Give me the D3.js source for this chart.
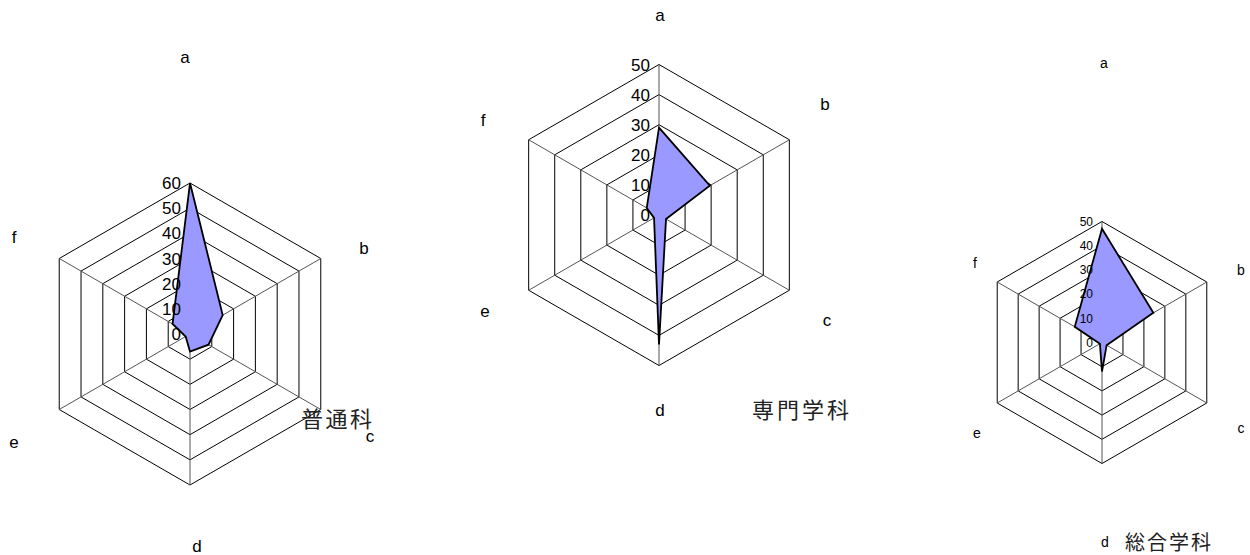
<!DOCTYPE html>
<html>
<head>
<meta charset="utf-8">
<script src="https://cdn.jsdelivr.net/npm/d3@7"></script>
<style>
  body { margin: 0; background: #fff; }
  svg { display: block; }
</style>
</head>
<body>
<svg width="1250" height="555"></svg>
<script>
// categories and values
var categories = ["a", "b", "c", "d", "e", "f"];
var titles = ["普通科", "専門学科", "総合学科"];
var futsuValues = [60, 15, 8.5, 7, 2, 8];
var senmonValues = [29, 19.5, 2.7, 43, 1.9, 4.7];
var sogoValues = [47, 24.5, 2.2, 12, 1, 13];
var futsuTicks = [0, 10, 20, 30, 40, 50, 60];
var senmonTicks = [0, 10, 20, 30, 40, 50];
var sogoTicks = [0, 10, 20, 30, 40, 50];

var svg = d3.select("svg");

// layout of each radar (centre, radius, where the labels sit)
var charts = [
  {title: titles[0], values: futsuValues, ticks: futsuTicks,
   cx: 190, cy: 334, r: 151, labelSize: 17, tickSize: 17, titleSize: 22, spacing: 2.5,
   labelOff: [[-5, -277], [174, -86], [180, 102], [7, 212], [-176, 108], [-176, -97]],
   titleOff: [111, 93]},
  {title: titles[1], values: senmonValues, ticks: senmonTicks,
   cx: 659, cy: 215, r: 150.5, labelSize: 17, tickSize: 17, titleSize: 22, spacing: 3,
   labelOff: [[1, -200], [166, -111], [168, 105], [1, 195], [-174, 96], [-176, -95]],
   titleOff: [93, 203]},
  {title: titles[2], values: sogoValues, ticks: sogoTicks,
   cx: 1102, cy: 342.5, r: 121, labelSize: 14, tickSize: 12, titleSize: 20, spacing: 2,
   labelOff: [[2, -280], [139, -73], [139, 85], [3, 199], [-125, 90], [-127, -80]],
   titleOff: [23, 207.5]}
];

charts.forEach(function(c) {
  var g = svg.append("g")
      .attr("transform", "translate(" + c.cx + "," + c.cy + ")");

  var rScale = d3.scaleLinear()
      .domain([0, d3.max(c.ticks)])
      .range([0, c.r]);

  var angle = d3.scalePoint()
      .domain(categories)
      .range([0, 2 * Math.PI * (categories.length - 1) / categories.length]);

  var line = d3.lineRadial()
      .angle(function(d) { return angle(d.cat); })
      .radius(function(d) { return rScale(d.v); })
      .curve(d3.curveLinearClosed);

  // rings
  g.selectAll(".ring")
    .data(c.ticks.filter(function(t) { return t > 0; }))
    .enter().append("path")
      .attr("class", "ring")
      .attr("d", function(t) {
        return line(categories.map(function(cat) { return {cat: cat, v: t}; }));
      })
      .style("fill", "none")
      .style("stroke", "#000")
      .style("stroke-width", 1);

  // spokes
  g.selectAll(".spoke")
    .data(categories)
    .enter().append("line")
      .attr("class", "spoke")
      .attr("x1", 0).attr("y1", 0)
      .attr("x2", function(d) { return rScale(d3.max(c.ticks)) * Math.sin(angle(d)); })
      .attr("y2", function(d) { return -rScale(d3.max(c.ticks)) * Math.cos(angle(d)); })
      .style("stroke", "#555")
      .style("stroke-width", 1);

  // data polygon
  g.append("path")
    .datum(categories.map(function(cat, i) { return {cat: cat, v: c.values[i]}; }))
    .attr("d", line)
    .style("fill", "#9999ff")
    .style("stroke", "#000")
    .style("stroke-width", 1.8)
    .style("stroke-linejoin", "miter");

  // tick labels along the top spoke
  g.selectAll(".tick")
    .data(c.ticks)
    .enter().append("text")
      .attr("class", "tick")
      .attr("x", -9)
      .attr("y", function(t) { return -rScale(t); })
      .attr("dy", "0.36em")
      .attr("text-anchor", "end")
      .style("font-family", "'Liberation Sans', Arial, sans-serif")
      .style("font-size", c.tickSize + "px")
      .style("fill", "#000")
      .text(function(t) { return t; });

  // category labels
  g.selectAll(".cat")
    .data(categories)
    .enter().append("text")
      .attr("class", "cat")
      .attr("x", function(d, i) { return c.labelOff[i][0]; })
      .attr("y", function(d, i) { return c.labelOff[i][1]; })
      .attr("dy", "0.36em")
      .attr("text-anchor", "middle")
      .style("font-family", "'Liberation Sans', Arial, sans-serif")
      .style("font-size", c.labelSize + "px")
      .style("fill", "#000")
      .text(function(d) { return d; });

  // title
  g.append("text")
    .attr("x", c.titleOff[0])
    .attr("y", c.titleOff[1])
    .style("font-family", "'Noto Sans CJK JP', sans-serif")
    .style("font-size", c.titleSize + "px")
    .style("letter-spacing", c.spacing + "px")
    .style("fill", "#222")
    .text(c.title);
});
</script>
</body>
</html>
